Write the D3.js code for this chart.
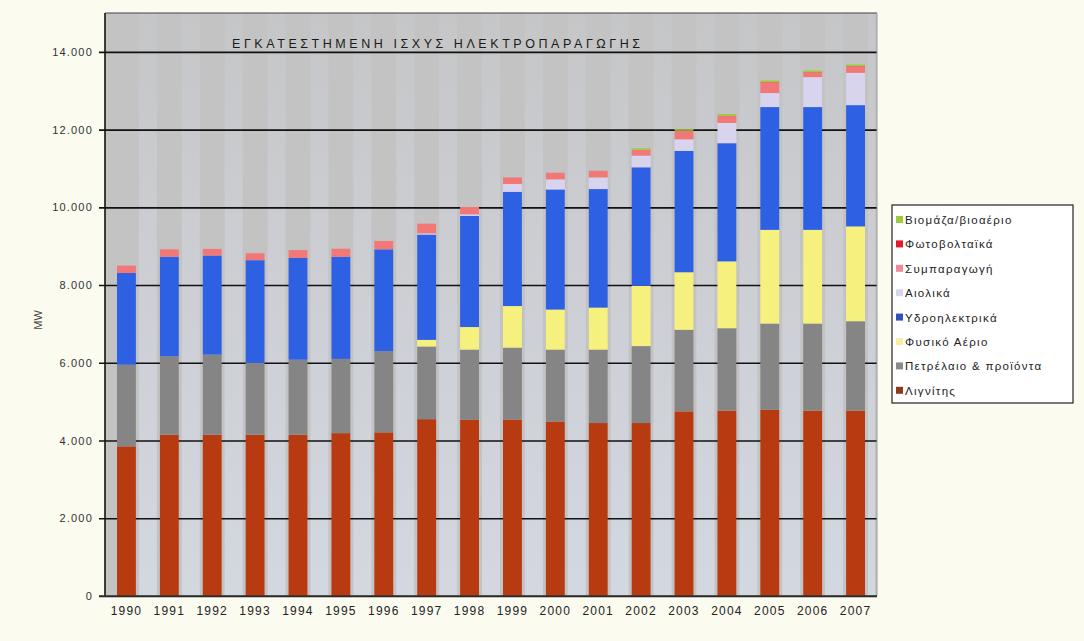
<!DOCTYPE html>
<html>
<head>
<meta charset="utf-8">
<script src="https://cdn.jsdelivr.net/npm/d3@7/dist/d3.min.js"></script>
<style>
  html, body { margin: 0; padding: 0; background: #fcfbef; }
  svg { display: block; font-family: "Liberation Sans", Arial, sans-serif; }
</style>
</head>
<body>
<svg width="1084" height="641"></svg>
<script>
// installed capacity per source, MW
var years = ['1990','1991','1992','1993','1994','1995','1996','1997','1998','1999','2000','2001','2002','2003','2004','2005','2006','2007'];
var lignite = [3850, 4150, 4150, 4150, 4150, 4190, 4210, 4550, 4540, 4540, 4490, 4450, 4450, 4750, 4770, 4790, 4770, 4770];
var oil     = [2100, 2020, 2060, 1850, 1930, 1910, 2090, 1870, 1800, 1850, 1850, 1890, 1980, 2100, 2120, 2220, 2240, 2300];
var gas     = [0, 0, 0, 0, 0, 0, 0, 170, 580, 1070, 1030, 1080, 1550, 1480, 1720, 2410, 2410, 2440];
var hydro   = [2360, 2560, 2550, 2640, 2620, 2630, 2620, 2710, 2860, 2940, 3090, 3050, 3050, 3120, 3040, 3160, 3160, 3120];
var wind    = [0, 0, 0, 0, 0, 0, 0, 30, 40, 200, 260, 300, 300, 300, 520, 360, 770, 830];
var cogen   = [190, 190, 170, 180, 200, 205, 215, 250, 190, 170, 170, 170, 150, 220, 190, 280, 125, 165];
var pv      = [0, 0, 0, 0, 0, 0, 0, 0, 0, 0, 0, 0, 0, 1, 1, 5, 5, 9];
var biomass = [0, 0, 0, 0, 0, 0, 0, 0, 0, 0, 0, 0, 40, 40, 40, 40, 40, 40];

var yTicks = [0, 2000, 4000, 6000, 8000, 10000, 12000, 14000];
var tickLabels = ['0', '2.000', '4.000', '6.000', '8.000', '10.000', '12.000', '14.000'];

// bottom to top
var series = [
  {name: 'Λιγνίτης', values: lignite, color: '#b83a10', key: '#8c3a1c'},
  {name: 'Πετρέλαιο & προϊόντα', values: oil, color: '#858585', key: '#8a8a8a'},
  {name: 'Φυσικό Αέριο', values: gas, color: '#f6f07e', key: '#f4f0a0'},
  {name: 'Υδροηλεκτρικά', values: hydro, color: '#2e60e4', key: '#3050c0'},
  {name: 'Αιολικά', values: wind, color: '#d9d4ee', key: '#d6d6ec'},
  {name: 'Συμπαραγωγή', values: cogen, color: '#f27878', key: '#f08a9a'},
  {name: 'Φωτοβολταϊκά', values: pv, color: '#e41f26', key: '#e01a2a'},
  {name: 'Βιομάζα/βιοαέριο', values: biomass, color: '#9ccc3a', key: '#9ccc3a'}
];

var plot = {left: 105, right: 877, top: 13, bottom: 596};

var svg = d3.select('svg');

var x = d3.scaleBand()
  .domain(years)
  .range([plot.left, plot.right])
  .paddingInner(0.56)
  .paddingOuter(0.28);

var y = d3.scaleLinear()
  .domain([0, 15000])
  .range([plot.bottom, plot.top]);

var rows = years.map(function(yr, i) {
  var r = {year: yr};
  series.forEach(function(s) { r[s.name] = s.values[i]; });
  return r;
});

var stacked = d3.stack().keys(series.map(function(s) { return s.name; }))(rows);

// gray plot area with pale columns between the bars
var defs = svg.append('defs');
var grad = defs.append('linearGradient')
  .attr('id', 'gapFade')
  .attr('x1', 0).attr('y1', 0).attr('x2', 0).attr('y2', 1);
grad.append('stop').attr('offset', '0%').attr('stop-color', '#d4d8e2').attr('stop-opacity', 0.15);
grad.append('stop').attr('offset', '45%').attr('stop-color', '#d4d8e2').attr('stop-opacity', 0.55);
grad.append('stop').attr('offset', '100%').attr('stop-color', '#d6dbe6').attr('stop-opacity', 0.85);

svg.append('rect')
  .attr('x', plot.left).attr('y', plot.top)
  .attr('width', plot.right - plot.left).attr('height', plot.bottom - plot.top)
  .style('fill', '#c3c3c3');

svg.append('g')
  .selectAll('rect')
  .data(years)
  .enter()
  .append('rect')
  .attr('x', function(d) { return x(d) + x.bandwidth() + 3; })
  .attr('y', plot.top)
  .attr('width', function(d) {
    var x0 = x(d) + x.bandwidth() + 3;
    return Math.max(0, Math.min(x.step() - x.bandwidth() - 6, plot.right - 2 - x0));
  })
  .attr('height', plot.bottom - plot.top)
  .style('fill', 'url(#gapFade)');

// gridlines with ticks sticking out on the left
var yAxis = d3.axisLeft(y)
  .tickValues(yTicks)
  .tickSize(-(plot.right - plot.left) - 6)
  .tickFormat(function(d, i) { return tickLabels[i]; });

var yg = svg.append('g')
  .attr('transform', 'translate(' + plot.right + ',0)')
  .call(yAxis);
yg.select('.domain').remove();
yg.selectAll('.tick line')
  .attr('x1', 0)
  .attr('x2', -(plot.right - plot.left) - 6)
  .style('stroke', '#111')
  .style('stroke-width', 1.6);
yg.selectAll('.tick text')
  .attr('x', -(plot.right - plot.left) - 12)
  .style('font-size', '11px')
  .style('letter-spacing', '1.2px')
  .style('fill', '#333');

// stacked bars
svg.append('g')
  .selectAll('g')
  .data(stacked)
  .enter()
  .append('g')
  .style('fill', function(d, i) { return series[i].color; })
  .selectAll('rect')
  .data(function(d) { return d; })
  .enter()
  .append('rect')
  .attr('x', function(d) { return x(d.data.year); })
  .attr('y', function(d) { return y(d[1]); })
  .attr('width', x.bandwidth())
  .attr('height', function(d) { return y(d[0]) - y(d[1]); });

// frame and axis lines
svg.append('line')
  .attr('x1', plot.left).attr('x2', plot.right)
  .attr('y1', plot.top).attr('y2', plot.top)
  .style('stroke', '#444').style('stroke-width', 1.2);
svg.append('line')
  .attr('x1', plot.right).attr('x2', plot.right)
  .attr('y1', plot.top).attr('y2', plot.bottom)
  .style('stroke', '#9a9a9a').style('stroke-width', 1);
svg.append('line')
  .attr('x1', plot.left).attr('x2', plot.left)
  .attr('y1', plot.top).attr('y2', plot.bottom)
  .style('stroke', '#111').style('stroke-width', 1.6);
svg.append('line')
  .attr('x1', plot.left - 6).attr('x2', plot.right)
  .attr('y1', plot.bottom).attr('y2', plot.bottom)
  .style('stroke', '#333').style('stroke-width', 1.4);

// year labels
var xAxis = d3.axisBottom(x).tickSize(0).tickPadding(10);
var xg = svg.append('g')
  .attr('transform', 'translate(0,' + plot.bottom + ')')
  .call(xAxis);
xg.select('.domain').remove();
xg.selectAll('text')
  .style('font-size', '12px')
  .style('letter-spacing', '1.2px')
  .style('fill', '#222');

// axis title and chart title
svg.append('text')
  .attr('transform', 'translate(42,320) rotate(-90)')
  .attr('text-anchor', 'middle')
  .style('font-size', '11px')
  .style('fill', '#444')
  .text('MW');

svg.append('text')
  .attr('x', 232)
  .attr('y', 48)
  .attr('textLength', 408)
  .attr('lengthAdjust', 'spacing')
  .style('font-size', '12.5px')
  .style('fill', '#1a1a1a')
  .text('ΕΓΚΑΤΕΣΤΗΜΕΝΗ ΙΣΧΥΣ ΗΛΕΚΤΡΟΠΑΡΑΓΩΓΗΣ');

// legend, top entry is the last series
var legend = svg.append('g').attr('transform', 'translate(892,205)');
legend.append('rect')
  .attr('width', 181).attr('height', 198)
  .style('fill', '#ffffff')
  .style('stroke', '#222')
  .style('stroke-width', 1.2);

var items = legend.selectAll('.item')
  .data(series.slice().reverse())
  .enter()
  .append('g')
  .attr('class', 'item')
  .attr('transform', function(d, i) { return 'translate(4,' + (16 + i * 24.4) + ')'; });

items.append('rect')
  .attr('x', 0).attr('y', -5)
  .attr('width', 7).attr('height', 7)
  .style('fill', function(d) { return d.key; });

items.append('text')
  .attr('x', 9)
  .attr('y', 3)
  .style('font-size', '11.5px')
  .style('letter-spacing', '1.3px')
  .style('fill', '#222')
  .text(function(d) { return d.name; });
</script>
</body>
</html>
